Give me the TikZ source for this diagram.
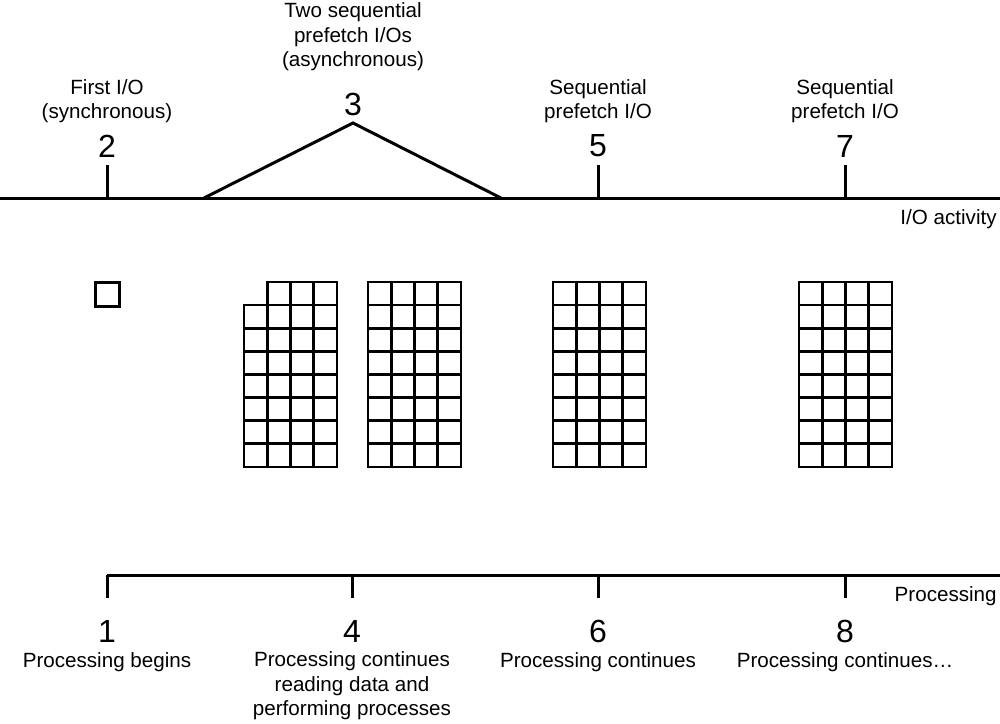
\documentclass[tikz,border=0pt]{standalone}
\usepackage{fontspec}
\setmainfont{Liberation Sans}
\begin{document}
\begin{tikzpicture}[x=0.5pt,y=-0.5pt,
  every node/.style={font=\fontsize{10.3}{12.2}\selectfont, align=center, inner sep=0pt},
  num/.style={font=\fontsize{16}{18}\selectfont},
  axis/.style={line width=1.5pt},
  cell/.style={line width=1.3pt}]
\useasboundingbox (0,0) rectangle (1000,723);

% I/O activity line
\coordinate (ioL) at (0,198);
\coordinate (ioR) at (1000,198);
\draw [axis] (ioL) -- (ioR);
\node [anchor=east] (ioname) at (997,219) {I/O activity};

\node (lab2) at (107,101) {First I/O\\(synchronous)};
\node [num] (n2) at (107,146) {2};
\coordinate (t2) at (107,165);
\draw [axis] (t2) -- (t2 |- ioL);

\node (lab3) at (353,37) {Two sequential\\prefetch I/Os\\(asynchronous)};
\node [num] (n3) at (353,104) {3};
\coordinate (t3a) at (204,198);
\coordinate (t3) at (353,123);
\coordinate (t3b) at (501,198);
\draw [axis, line join=miter] (t3a) -- (t3) -- (t3b);

\node (lab5) at (598,101) {Sequential\\prefetch I/O};
\node [num] (n5) at (598,146) {5};
\coordinate (t5) at (598,165);
\draw [axis] (t5) -- (t5 |- ioL);

\node (lab7) at (845,101) {Sequential\\prefetch I/O};
\node [num] (n7) at (845,146) {7};
\coordinate (t7) at (845,165);
\draw [axis] (t7) -- (t7 |- ioL);

% pages read
\draw [axis] (95,282) rectangle (119,306);

\foreach \i in {1,...,3}
  \draw [cell] (244+\i*23.2,282) rectangle ++(23.2,23.1);
\foreach \i in {0,...,3}
  \foreach \j in {1,...,7}
    \draw [cell] (244+\i*23.2,282+\j*23.1) rectangle ++(23.2,23.1);

\foreach \gx in {368,553,799}
  \foreach \i in {0,...,3}
    \foreach \j in {0,...,7}
      \draw [cell] (\gx+\i*23.2,282+\j*23.1) rectangle ++(23.2,23.1);

% Processing line
\coordinate (prL) at (107,575);
\coordinate (prR) at (1000,575);
\draw [axis] (prL) -- (prR);
\node [anchor=east] (prname) at (997,596) {Processing};

\coordinate (t1) at (107,598);
\draw [axis] (t1 |- prL) -- (t1);
\node [num] (n1) at (107,631) {1};
\node (lab1) at (107,662) {Processing begins};

\coordinate (t4) at (352,598);
\draw [axis] (t4 |- prL) -- (t4);
\node [num] (n4) at (352,631) {4};
\node (lab4) at (352,686) {Processing continues\\reading data and\\performing processes};

\coordinate (t6) at (598,598);
\draw [axis] (t6 |- prL) -- (t6);
\node [num] (n6) at (598,631) {6};
\node (lab6) at (598,662) {Processing continues};

\coordinate (t8) at (845,598);
\draw [axis] (t8 |- prL) -- (t8);
\node [num] (n8) at (845,631) {8};
\node (lab8) at (845,662) {Processing continues\dots};
\end{tikzpicture}
\end{document}
